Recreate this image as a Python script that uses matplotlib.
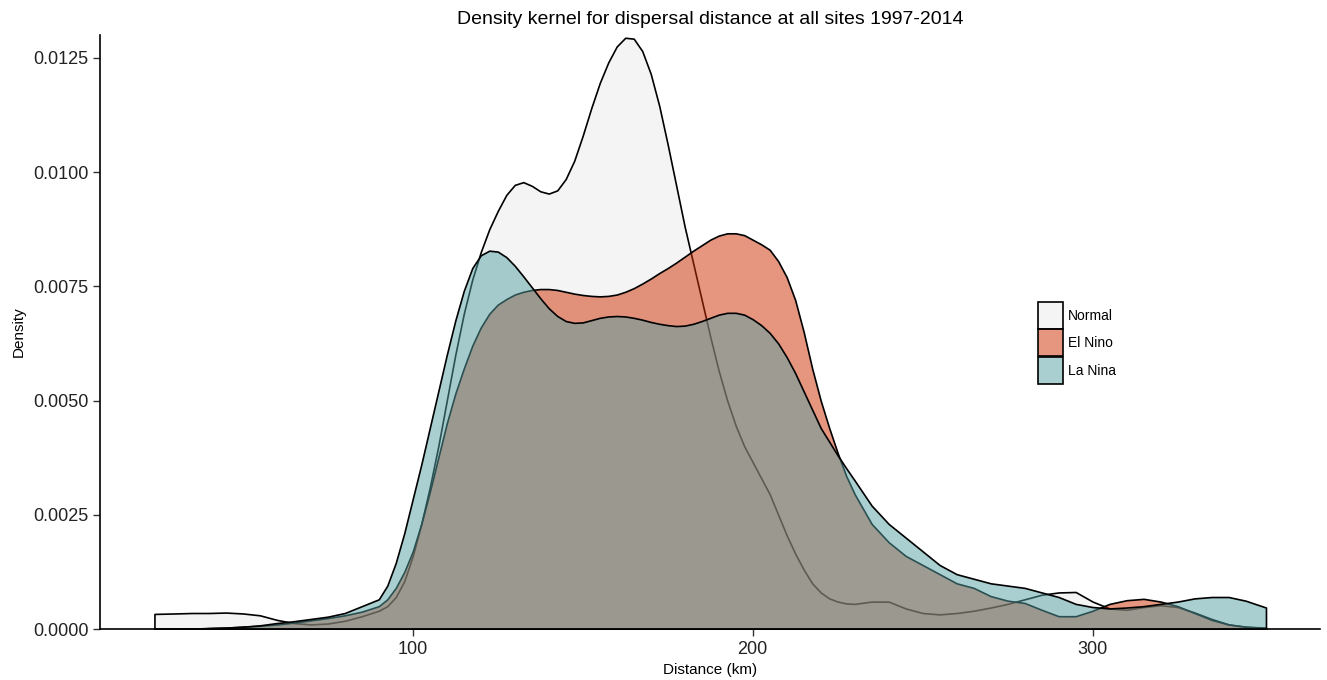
import numpy as np
import matplotlib
matplotlib.use("Agg")
import matplotlib.pyplot as plt
from matplotlib.patches import Patch

plt.rcParams['font.family'] = ['Liberation Sans', 'DejaVu Sans']

# distance grid (km) the densities were read on; finer through the main body
distance = [24, 30, 35, 40, 45, 50, 55, 60, 65, 70, 75, 80, 85,
            90, 92.5, 95, 97.5, 100,
            102.5, 105, 107.5, 110, 112.5,
            115, 117.5, 120, 122.5, 125,
            127.5, 130, 132.5, 135, 137.5,
            140, 142.5, 145, 147.5, 150,
            152.5, 155, 157.5, 160, 162.5,
            165, 167.5, 170, 172.5, 175,
            177.5, 180, 182.5, 185, 187.5,
            190, 192.5, 195, 197.5, 200,
            202.5, 205, 207.5, 210, 212.5,
            215, 217.5, 220, 222.5, 225,
            227.5, 230,
            235, 240, 245, 250, 255, 260, 265, 270, 275, 280, 285, 290,
            295, 300, 305, 310, 315, 320, 325, 330, 335, 340, 345, 351]

normal = [0.00033, 0.00034, 0.00035, 0.00035, 0.00036, 0.00034, 0.00030, 0.00020,
          0.00013, 0.00010, 0.00012, 0.00018, 0.00028,
          0.00040, 0.00050, 0.00070, 0.00105, 0.00160,
          0.00230, 0.00310, 0.00400, 0.00500, 0.00600,
          0.00690, 0.00765, 0.00825, 0.00875, 0.00915,
          0.00950, 0.00972, 0.00978, 0.00970, 0.00958,
          0.00953, 0.00960, 0.00985, 0.01025, 0.01080,
          0.01140, 0.01195, 0.01240, 0.01275, 0.01294,
          0.01292, 0.01265, 0.01215, 0.01145, 0.01060,
          0.00970, 0.00880, 0.00800, 0.00720, 0.00640,
          0.00565, 0.00500, 0.00445, 0.00400, 0.00365,
          0.00330, 0.00295, 0.00250, 0.00205, 0.00165,
          0.00130, 0.00100, 0.00080, 0.00067, 0.00060,
          0.00056, 0.00055,
          0.00060, 0.00060, 0.00045, 0.00035, 0.00032, 0.00035, 0.00040, 0.00047,
          0.00055, 0.00065, 0.00075, 0.00080, 0.00081, 0.00060, 0.00045, 0.00042,
          0.00048, 0.00052, 0.00048, 0.00036, 0.00022, 0.00010, 0.00005, 0.00002]

el_nino = [0.0, 0.0, 0.0, 0.00002, 0.00003, 0.00005, 0.00007, 0.00010,
           0.00014, 0.00019, 0.00024, 0.00030, 0.00038,
           0.00050, 0.00065, 0.00090, 0.00125, 0.00170,
           0.00230, 0.00300, 0.00375, 0.00450, 0.00515,
           0.00570, 0.00620, 0.00660, 0.00690, 0.00710,
           0.00722, 0.00732, 0.00738, 0.00742, 0.00744,
           0.00744, 0.00742, 0.00738, 0.00734, 0.00731,
           0.00729, 0.00728, 0.00729, 0.00732, 0.00738,
           0.00746, 0.00756, 0.00767, 0.00779, 0.00790,
           0.00802, 0.00815, 0.00828, 0.00840, 0.00852,
           0.00861, 0.00866, 0.00866, 0.00862, 0.00852,
           0.00842, 0.00830, 0.00805, 0.00770, 0.00720,
           0.00650, 0.00570, 0.00500, 0.00440, 0.00385,
           0.00335, 0.00295,
           0.00230, 0.00190, 0.00160, 0.00140, 0.00120, 0.00100, 0.00090, 0.00072,
           0.00062, 0.00057, 0.00042, 0.00028, 0.00028, 0.00040, 0.00055, 0.00063,
           0.00066, 0.00060, 0.00050, 0.00035, 0.00020, 0.00010, 0.00005, 0.00003]

la_nina = [0.0, 0.0, 0.00001, 0.00002, 0.00003, 0.00005, 0.00008, 0.00013,
           0.00017, 0.00022, 0.00027, 0.00035, 0.00050,
           0.00065, 0.00095, 0.00145, 0.00210, 0.00285,
           0.00360, 0.00440, 0.00520, 0.00600, 0.00675,
           0.00740, 0.00790, 0.00818, 0.00828, 0.00826,
           0.00814, 0.00795, 0.00772, 0.00748, 0.00724,
           0.00702, 0.00685, 0.00674, 0.00670, 0.00671,
           0.00676, 0.00681, 0.00684, 0.00685, 0.00684,
           0.00681, 0.00677, 0.00672, 0.00668, 0.00665,
           0.00663, 0.00664, 0.00668, 0.00674, 0.00681,
           0.00688, 0.00692, 0.00692, 0.00688, 0.00678,
           0.00665, 0.00648, 0.00625, 0.00595, 0.00560,
           0.00520, 0.00480, 0.00440, 0.00410, 0.00380,
           0.00352, 0.00325,
           0.00270, 0.00230, 0.00200, 0.00170, 0.00140, 0.00120, 0.00110, 0.00100,
           0.00095, 0.00090, 0.00080, 0.00070, 0.00055, 0.00048, 0.00045, 0.00047,
           0.00050, 0.00055, 0.00060, 0.00067, 0.00070, 0.00070, 0.00062, 0.00047]

groups = ["Normal", "El Nino", "La Nina"]
fills = ["#ebebeb", "#cf2d00", "#55a1a5"]

fig = plt.figure(figsize=(13.27, 6.8), dpi=100)
ax = fig.add_axes([0.0754, 0.075, 0.9196, 0.8735])

# each group: translucent fill, solid black outline, drawn in order
for values, col in zip([normal, el_nino, la_nina], fills):
    face = matplotlib.colors.to_rgba(col, 0.5)
    ax.fill_between(distance, values, 0, facecolor=face, edgecolor="black",
                    linewidth=1.2)

ax.set_xlim(8, 367)
ax.set_ylim(0, 0.0130)
ax.set_xticks([100, 200, 300])
ax.set_yticks([0, 0.0025, 0.005, 0.0075, 0.01, 0.0125])
ax.set_yticklabels(["0.0000", "0.0025", "0.0050", "0.0075", "0.0100", "0.0125"])
ax.tick_params(labelsize=13, length=5, width=1, color="#333333", labelcolor="#222222")

for side in ["top", "right"]:
    ax.spines[side].set_visible(False)
for side in ["left", "bottom"]:
    ax.spines[side].set_linewidth(1.2)

ax.set_title("Density kernel for dispersal distance at all sites 1997-2014",
             fontsize=14, pad=8)
ax.set_xlabel("Distance (km)", fontsize=11, labelpad=4)
ax.set_ylabel("Density", fontsize=11, labelpad=5)

handles = [Patch(facecolor=matplotlib.colors.to_rgba(c, 0.5), edgecolor="black",
                 linewidth=1.2, label=g) for g, c in zip(groups, fills)]
ax.legend(handles=handles, loc="upper left", bbox_to_anchor=(0.764, 0.560),
          frameon=False, fontsize=10, handlelength=1.8, handleheight=2.6,
          handletextpad=0.35, labelspacing=0.05, borderaxespad=0)

fig.savefig("out.png", dpi=100)
